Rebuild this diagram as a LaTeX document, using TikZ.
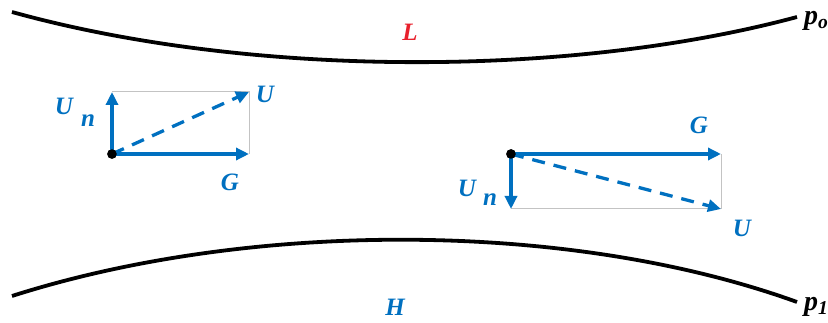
\documentclass[tikz,border=0pt]{standalone}
\usepackage{fontspec}
\setmainfont{Liberation Serif}
\usetikzlibrary{arrows.meta}
\definecolor{vblue}{RGB}{0,112,192}
\definecolor{lred}{RGB}{232,32,44}
\definecolor{rgray}{RGB}{195,195,195}
\begin{document}
\begin{tikzpicture}[x=1pt,y=-1pt,
  curve/.style={line width=3.8pt, black},
  vec/.style={line width=3.3pt, vblue, -{Triangle[length=13pt,width=12pt]}},
  dvec/.style={vec, dash pattern=on 13pt off 9pt},
  box/.style={rgray, line width=1pt},
  lbl/.style={font=\fontsize{25}{30}\selectfont\bfseries\itshape, inner sep=0pt},
  plbl/.style={font=\fontsize{28}{32}\selectfont\bfseries\itshape, inner sep=0pt, anchor=west},
  dot/.style={circle, fill=black, inner sep=0pt, minimum size=9.5pt}]
\useasboundingbox (0,0) rectangle (828,323);
% boundaries
\coordinate (t0) at (12,12);
\coordinate (t1) at (797,17);
\coordinate (b0) at (12,296);
\coordinate (b1) at (797,302);
\draw[curve] (t0) .. controls (250,78) and (570,78) .. (t1);
\draw[curve] (b0) .. controls (250,220) and (570,220) .. (b1);
\node[plbl] (p0) at (804,21) {p\textsubscript{o}};
\node[plbl] (p1) at (804,307) {p\textsubscript{1}};
\node[lbl, text=lred] (L) at (410,32) {L};
\node[lbl, text=vblue] (H) at (395,307) {H};
% left vectors
\node[dot] (o1) at (112,154) {};
\coordinate (a1) at (112,92);
\coordinate (g1) at (249,154);
\coordinate (u1) at (249,92);
\draw[box] (a1) -- (u1) -- (g1);
\draw[vec] (o1.center) -- (a1);
\draw[vec] (o1.center) -- (g1);
\draw[dvec] (o1.center) -- (u1);
\node[lbl, text=vblue] (un1) at (64,106) {U};
\node[lbl, text=vblue] (n1) at (88,121) {n};
\node[lbl, text=vblue] (U1) at (265,94) {U};
\node[lbl, text=vblue] (G1) at (230,182) {G};
% right vectors
\node[dot] (o2) at (511,154) {};
\coordinate (g2) at (721,154);
\coordinate (a2) at (511,209);
\coordinate (u2) at (721,209);
\draw[box] (a2) -- (u2) -- (g2);
\draw[vec] (o2.center) -- (g2);
\draw[vec] (o2.center) -- (a2);
\draw[dvec] (o2.center) -- (u2);
\node[lbl, text=vblue] (G2) at (699,125) {G};
\node[lbl, text=vblue] (un2) at (467,188) {U};
\node[lbl, text=vblue] (n2) at (490,200) {n};
\node[lbl, text=vblue] (U2) at (742,228) {U};
\node[dot] at (o1) {};
\node[dot] at (o2) {};
\end{tikzpicture}
\end{document}
